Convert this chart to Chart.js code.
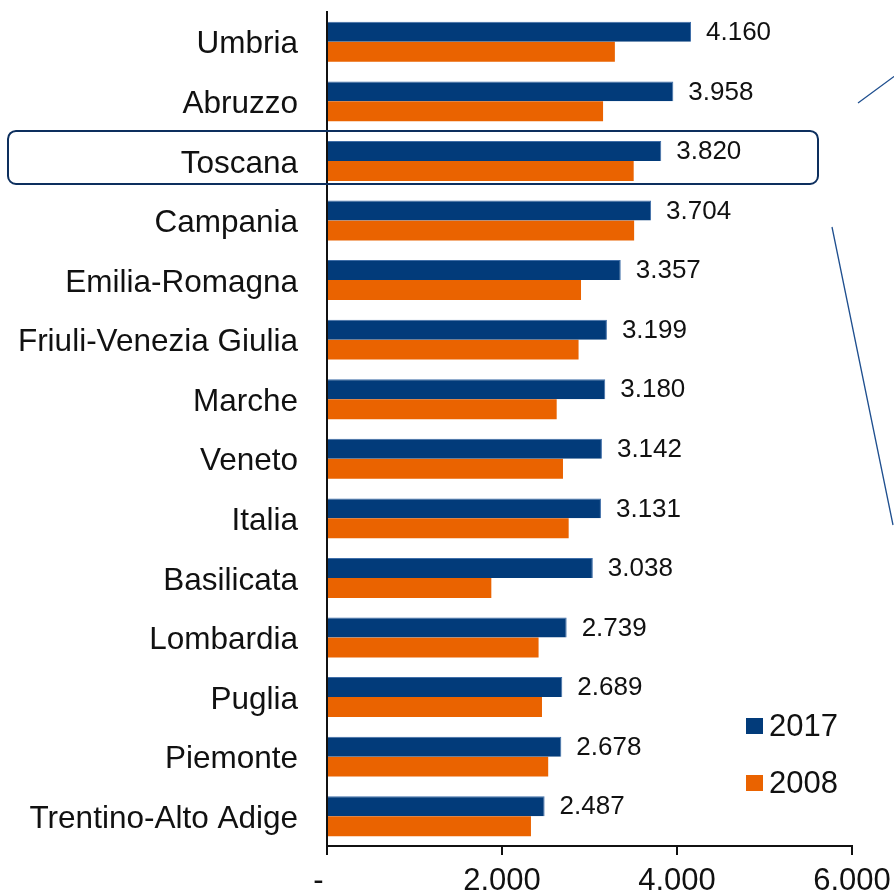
<!DOCTYPE html>
<html lang="it">

<head>
    <meta charset="UTF-8">
    <title>Regioni 2017 vs 2008</title>
    <style>
        html, body { margin: 0; padding: 0; background: #fff; }
        #box { width: 894px; height: 895px; }
    </style>
</head>

<body>
    <div id="box">
        <canvas id="myChart"></canvas>
    </div>

    <script src="https://cdn.jsdelivr.net/npm/chart.js"></script>

    <script>
        // regioni (dall'alto verso il basso)
        const regioni = ["Umbria", "Abruzzo", "Toscana", "Campania", "Emilia-Romagna",
            "Friuli-Venezia Giulia", "Marche", "Veneto", "Italia", "Basilicata",
            "Lombardia", "Puglia", "Piemonte", "Trentino-Alto Adige"];
        const valori2017 = [4160, 3958, 3820, 3704, 3357, 3199, 3180, 3142, 3131, 3038, 2739, 2689, 2678, 2487];
        const valori2008 = [3290, 3155, 3505, 3510, 2903, 2875, 2625, 2697, 2762, 1878, 2418, 2457, 2528, 2331];
        const xTicks = [0, 2000, 4000, 6000];
        const evidenziata = "Toscana";

        const BLU = "#023b7a";
        const ARANCIO = "#ea6300";
        const FONT = "'Liberation Sans', Arial, sans-serif";

        function fmt(v) {
            if (v == 0) return "-  ";
            return v.toLocaleString("it-IT");
        }

        // etichette valori, riquadro e legenda
        const extraPlugin = {
            id: "extra",
            afterDatasetsDraw(chart) {
                const c = chart.ctx;
                const yScale = chart.scales.y;

                // valori 2017 a destra della barra
                const meta = chart.getDatasetMeta(0);
                c.save();
                c.font = "26px " + FONT;
                c.fillStyle = "#111";
                c.textAlign = "left";
                c.textBaseline = "middle";
                meta.data.forEach((bar, i) => {
                    c.fillText(fmt(valori2017[i]), bar.x + 15, bar.y + 1);
                });
                c.restore();

                // riquadro arrotondato sulla regione evidenziata
                const yc = yScale.getPixelForValue(regioni.indexOf(evidenziata));
                c.save();
                c.strokeStyle = "#0d2f5e";
                c.lineWidth = 2;
                c.beginPath();
                c.roundRect(8, yc - 30, 810, 53, 8);
                c.stroke();

                // linee di richiamo
                c.strokeStyle = "#1f4f8f";
                c.lineWidth = 1.3;
                c.beginPath();
                c.moveTo(858, 103);
                c.lineTo(896, 75);
                c.moveTo(832, 227);
                c.lineTo(893, 525);
                c.stroke();
                c.restore();

                // legenda
                c.save();
                c.font = "31px " + FONT;
                c.textBaseline = "middle";
                c.textAlign = "left";
                chart.data.datasets.forEach((ds, i) => {
                    const ly = 726 + i * 57;
                    c.fillStyle = ds.backgroundColor;
                    c.fillRect(746, ly - 8, 17, 16);
                    c.fillStyle = "#111";
                    c.fillText(ds.label, 769, ly + 1);
                });
                c.restore();
            }
        };

        const ctx = document.getElementById("myChart");

        let v_chart = new Chart(ctx, {
            type: "bar",
            data: {
                labels: regioni,
                datasets: [{
                    label: "2017",
                    data: valori2017,
                    backgroundColor: BLU,
                    borderColor: "#3f6ea8",
                    borderWidth: { right: 1, top: 1 },
                    borderSkipped: "start"
                }, {
                    label: "2008",
                    data: valori2008,
                    backgroundColor: ARANCIO,
                    borderWidth: 0
                }]
            },
            options: {
                indexAxis: "y",
                responsive: true,
                maintainAspectRatio: false,
                animation: false,
                categoryPercentage: 0.67,
                barPercentage: 1.0,
                layout: { padding: { top: 12, right: 42, bottom: 0, left: 0 } },
                plugins: {
                    legend: { display: false },
                    tooltip: { enabled: false }
                },
                scales: {
                    x: {
                        min: 0,
                        max: 6000,
                        afterBuildTicks: (scale) => {
                            scale.ticks = xTicks.map(v => ({ value: v }));
                        },
                        afterFit: (scale) => {
                            scale.height = 49;
                            scale.paddingLeft = 0;
                            scale.paddingRight = 0;
                        },
                        ticks: {
                            callback: (v) => fmt(v),
                            color: "#111",
                            font: { family: FONT, size: 31 },
                            padding: 8,
                            maxRotation: 0,
                            autoSkip: false
                        },
                        grid: {
                            drawOnChartArea: false,
                            drawTicks: true,
                            tickLength: 9,
                            color: "#111",
                            lineWidth: 2
                        },
                        border: { color: "#111", width: 2 }
                    },
                    y: {
                        afterFit: (scale) => {
                            scale.width = 327;
                            scale.paddingTop = 0;
                            scale.paddingBottom = 0;
                        },
                        ticks: {
                            color: "#111",
                            font: { family: FONT, size: 31.5 },
                            padding: 29,
                            labelOffset: 3
                        },
                        grid: { display: false, drawTicks: false },
                        border: { display: true, color: "#111", width: 2 }
                    }
                }
            },
            plugins: [extraPlugin]
        });
    </script>
</body>

</html>
